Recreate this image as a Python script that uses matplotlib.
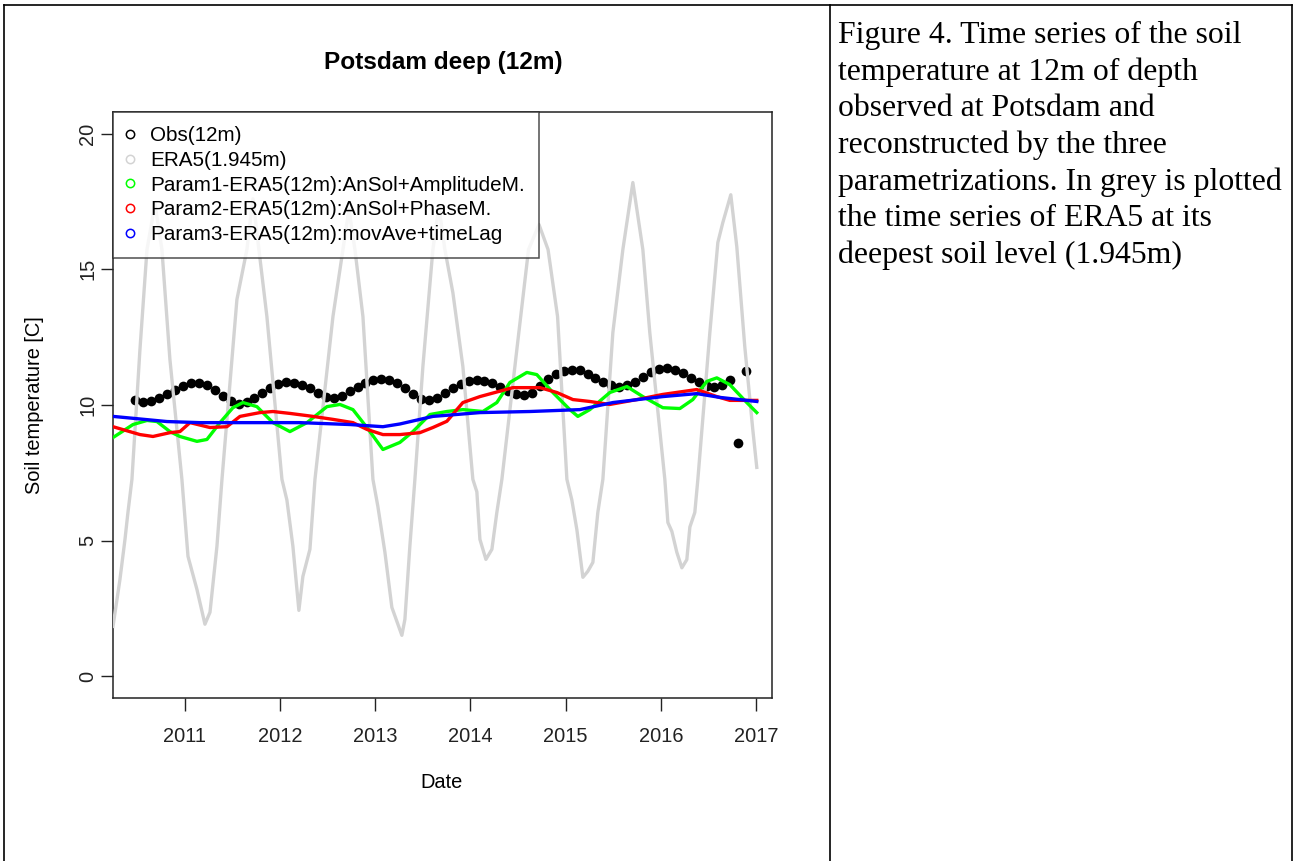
import matplotlib
matplotlib.use("Agg")
import matplotlib.pyplot as plt
import numpy as np
from matplotlib.lines import Line2D

W, H = 1294, 861

# --- data (decimal years) ----------------------------------------------
era5_t = [2010.244, 2010.317, 2010.370, 2010.401, 2010.443, 2010.527, 2010.601,
          2010.685, 2010.758, 2010.842, 2010.968, 2011.032, 2011.126, 2011.210,
          2011.263, 2011.336, 2011.389, 2011.546, 2011.651, 2011.714, 2011.777,
          2011.861, 2012.019, 2012.071, 2012.134, 2012.197, 2012.239, 2012.313,
          2012.366, 2012.555, 2012.660, 2012.723, 2012.786, 2012.870, 2012.975,
          2013.027, 2013.101, 2013.174, 2013.279, 2013.311, 2013.363, 2013.416,
          2013.500, 2013.605, 2013.668, 2013.731, 2013.815, 2013.920, 2014.025,
          2014.067, 2014.099, 2014.162, 2014.225, 2014.277, 2014.330, 2014.487,
          2014.610, 2014.720, 2014.815, 2014.915, 2015.013, 2015.065, 2015.118,
          2015.181, 2015.233, 2015.286, 2015.338, 2015.391, 2015.496, 2015.601,
          2015.706, 2015.811, 2015.884, 2016.042, 2016.074, 2016.116, 2016.168,
          2016.221, 2016.273, 2016.305, 2016.357, 2016.389, 2016.515, 2016.599,
          2016.651, 2016.735, 2016.798, 2016.882, 2016.966, 2017.008]
era5_v = [1.84, 3.57, 5.05, 6.04, 7.26, 12.04, 15.73,
          17.4, 15.73, 11.68, 7.26, 4.42, 3.2, 1.92,
          2.36, 4.79, 7.26, 13.89, 15.73, 17.6, 15.73,
          13.26, 7.26, 6.5, 4.8, 2.43, 3.68, 4.68,
          7.26, 13.26, 15.73, 17.2, 15.73, 13.26, 7.26,
          6.26, 4.57, 2.54, 1.51, 2.1, 4.79, 7.26,
          11.42, 15.73, 17.3, 15.73, 14.14, 11.42, 7.26,
          6.8, 5.05, 4.31, 4.68, 6.04, 7.26, 12.04,
          15.73, 16.65, 15.73, 13.26, 7.26, 6.5, 5.4,
          3.65, 3.87, 4.2, 6.04, 7.26, 12.67, 15.73,
          18.2, 15.73, 12.67, 7.26, 5.67, 5.34, 4.57,
          4.0, 4.3, 5.5, 6.04, 7.26, 12.67, 15.99,
          16.72, 17.75, 15.84, 12.15, 9.1, 7.7]

# monthly observations Jun 2010 .. Nov 2016
obs_start = 2010.48
obs_v = [10.20, 10.12, 10.15, 10.25, 10.40, 10.55, 10.70,
         10.82, 10.80, 10.72, 10.55, 10.35, 10.15, 10.05, 10.10, 10.25, 10.45, 10.62, 10.78,
         10.85, 10.82, 10.75, 10.62, 10.45, 10.30, 10.25, 10.35, 10.50, 10.68, 10.82, 10.92,
         10.95, 10.92, 10.82, 10.62, 10.40, 10.22, 10.18, 10.25, 10.45, 10.62, 10.78, 10.88,
         10.92, 10.90, 10.82, 10.68, 10.50, 10.40, 10.38, 10.45, 10.70, 10.95, 11.15, 11.25,
         11.30, 11.28, 11.15, 11.00, 10.85, 10.72, 10.68, 10.72, 10.85, 11.05, 11.20, 11.32,
         11.35, 11.30, 11.18, 11.00, 10.85, 10.70, 10.65, 10.72, 10.92, 8.60, 11.25]
obs_t = obs_start + np.arange(len(obs_v)) / 12.0

p1_t = [2010.244, 2010.454, 2010.601, 2010.706, 2010.842, 2010.947, 2011.126, 2011.231,
        2011.368, 2011.504, 2011.609, 2011.756, 2011.924, 2012.103, 2012.282, 2012.492,
        2012.628, 2012.765, 2012.912, 2013.080, 2013.258, 2013.395, 2013.574, 2013.752,
        2013.920, 2014.130, 2014.277, 2014.414, 2014.592, 2014.697, 2014.866, 2015.044,
        2015.128, 2015.254, 2015.464, 2015.643, 2015.811, 2016.021, 2016.200, 2016.336,
        2016.483, 2016.588, 2016.725, 2016.903, 2017.008]
p1_v = [8.8, 9.28, 9.43, 9.39, 9.02, 8.84, 8.66, 8.73,
        9.35, 9.9, 10.09, 9.94, 9.35, 9.02, 9.35, 9.94,
        10.02, 9.83, 9.17, 8.36, 8.62, 9.02, 9.65, 9.76,
        9.83, 9.76, 10.09, 10.83, 11.2, 11.12, 10.46, 9.83,
        9.58, 9.83, 10.46, 10.68, 10.31, 9.9, 9.87, 10.2,
        10.87, 11.0, 10.75, 10.09, 9.72]

p2_t = [2010.244, 2010.527, 2010.664, 2010.842, 2010.947, 2011.053, 2011.263, 2011.441,
        2011.578, 2011.788, 2011.924, 2012.103, 2012.345, 2012.555, 2012.765, 2012.912,
        2013.080, 2013.258, 2013.468, 2013.605, 2013.752, 2013.920, 2014.099, 2014.445,
        2014.729, 2014.908, 2015.076, 2015.254, 2015.464, 2015.748, 2016.021, 2016.378,
        2016.588, 2016.725, 2017.008]
p2_v = [9.2, 8.91, 8.84, 8.98, 9.02, 9.35, 9.17, 9.2,
        9.58, 9.72, 9.76, 9.69, 9.58, 9.47, 9.35, 9.1,
        8.91, 8.91, 8.98, 9.17, 9.4, 10.09, 10.31, 10.64,
        10.64, 10.46, 10.2, 10.13, 10.02, 10.2, 10.39, 10.57,
        10.31, 10.17, 10.17]

p3_t = [2010.244, 2010.811, 2011.158, 2011.683, 2012.208, 2012.733, 2013.080, 2013.258,
        2013.605, 2014.099, 2014.624, 2015.149, 2015.496, 2016.021, 2016.378, 2016.620,
        2017.008]
p3_v = [9.58, 9.39, 9.35, 9.35, 9.35, 9.28, 9.2, 9.3,
        9.58, 9.72, 9.76, 9.83, 10.09, 10.31, 10.42, 10.28,
        10.13]

year_ticks = [2011, 2012, 2013, 2014, 2015, 2016, 2017]
temp_ticks = [0, 5, 10, 15, 20]

labels = ["Obs(12m)", "ERA5(1.945m)", "Param1-ERA5(12m):AnSol+AmplitudeM.",
          "Param2-ERA5(12m):AnSol+PhaseM.", "Param3-ERA5(12m):movAve+timeLag"]
colors = ["black", "#d3d3d3", "#00ff00", "#ff0000", "#0000ff"]

caption = ["Figure 4. Time series of the soil",
           "temperature at 12m of depth",
           "observed at Potsdam and",
           "reconstructed by the three",
           "parametrizations. In grey is plotted",
           "the time series of ERA5 at its",
           "deepest soil level (1.945m)"]

SANS = "Liberation Sans"
SERIF = "Liberation Serif"


def fx(px):
    return px / W


def fy(py):
    return 1 - py / H


fig = plt.figure(figsize=(W / 100, H / 100), dpi=100)
fig.patch.set_facecolor("white")

ax = fig.add_axes([fx(113), fy(698), (772 - 113) / W, (698 - 112) / H])

ax.plot(obs_t, obs_v, "o", color="black", markersize=7, markeredgewidth=0, zorder=2)
ax.plot(era5_t, era5_v, color=colors[1], lw=2.4, zorder=3, solid_joinstyle="round")
ax.plot(p1_t, p1_v, color=colors[2], lw=2.4, zorder=4)
ax.plot(p2_t, p2_v, color=colors[3], lw=2.4, zorder=5)
ax.plot(p3_t, p3_v, color=colors[4], lw=2.4, zorder=6)

ax.set_xlim(2010.244, 2017.168)
ax.set_ylim(-0.8, 20.8)
ax.set_xticks(year_ticks)
ax.set_xticklabels([str(y) for y in year_ticks], fontsize=14.4, family=SANS)
ax.set_yticks(temp_ticks)
ax.set_yticklabels([str(v) for v in temp_ticks], fontsize=14.4, family=SANS,
                   rotation=90, va="center")
ax.tick_params(axis="x", length=9, width=1, pad=12, colors="#222222")
ax.tick_params(axis="y", length=9, width=1, pad=2.5, colors="#222222")
for s in ax.spines.values():
    s.set_linewidth(1.1)
    s.set_color("#222222")

handles = [Line2D([], [], ls="none", marker="o", markerfacecolor="none",
                  markeredgecolor=c, markersize=6, markeredgewidth=1.1) for c in colors]
leg = ax.legend(handles, labels, loc="upper left", borderaxespad=0,
                prop={"family": SANS, "size": 14.9}, frameon=True, fancybox=False,
                borderpad=0.70, labelspacing=0.27, handlelength=0.24,
                handletextpad=0.85)
leg.get_frame().set_edgecolor("#222222")
leg.get_frame().set_linewidth(1.1)
leg.set_zorder(10)

fig.text(fx(443), fy(63), "Potsdam deep (12m)", ha="center", va="center",
         fontsize=17.6, fontweight="bold", family=SANS)
fig.text(fx(442), fy(783), "Date", ha="center", va="center", fontsize=14.4, family=SANS)
fig.text(fx(35), fy(405), "Soil temperature [C]", ha="center", va="center",
         rotation=90, fontsize=14.4, family=SANS)

# table cell borders
for xs, ys in [([4, 1292], [5, 5]), ([4, 4], [5, H]), ([830, 830], [5, H]),
               ([1292, 1292], [5, H])]:
    fig.add_artist(Line2D([fx(x) for x in xs], [fy(y) for y in ys],
                          transform=fig.transFigure, color="black", lw=1.2))

for i, line in enumerate(caption):
    fig.text(fx(838), fy(43 + i * 36.7), line, ha="left", va="baseline",
             fontsize=22.9, family=SERIF)

fig.savefig("out.png", dpi=100, facecolor="white")
